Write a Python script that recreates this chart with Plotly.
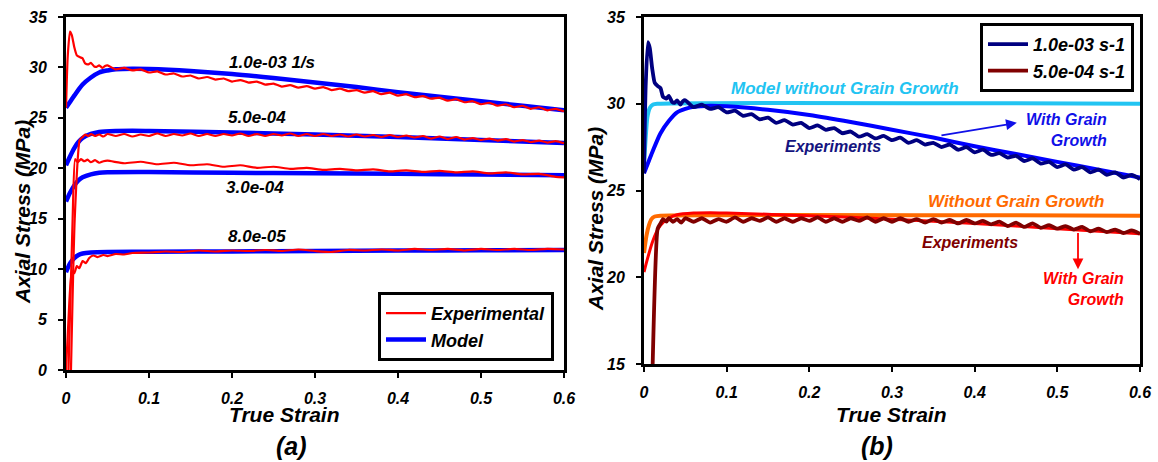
import plotly.graph_objects as go

W, H = 1158, 462

# ---------------- data ----------------
# 1.0e-03 1/s experiment (left red, right navy)
exp1_x = [0, 0.002, 0.0048, 0.007, 0.01, 0.013, 0.017, 0.02, 0.023, 0.027, 0.03, 0.034, 0.037, 0.04, 0.044, 0.047,
          0.05, 0.06, 0.07, 0.08, 0.09, 0.10, 0.11, 0.12, 0.13, 0.14, 0.15, 0.16, 0.17, 0.18, 0.19, 0.20,
          0.21, 0.22, 0.23, 0.24, 0.25, 0.26, 0.27, 0.28, 0.29, 0.30, 0.31, 0.32, 0.33, 0.34, 0.35, 0.36,
          0.37, 0.38, 0.39, 0.40, 0.41, 0.42, 0.43, 0.44, 0.45, 0.46, 0.47, 0.48, 0.49, 0.50, 0.51, 0.52,
          0.53, 0.54, 0.55, 0.56, 0.57, 0.58, 0.59, 0.60]
exp1_y = [26.0, 31.0, 33.55, 33.2, 32.0, 31.2, 31.0, 30.9, 30.4, 30.3, 30.45, 30.1, 30.05, 30.2, 29.95, 30.15,
          30.2, 29.8, 29.95, 29.7, 29.8, 29.5, 29.6, 29.3, 29.4, 29.1, 29.2, 28.9, 29.05, 28.8, 28.9, 28.6,
          28.75, 28.5, 28.6, 28.3, 28.4, 28.1, 28.25, 28.0, 28.15, 27.9, 28.05, 27.75, 27.9, 27.65, 27.75, 27.5,
          27.65, 27.35, 27.5, 27.2, 27.35, 27.05, 27.15, 26.9, 27.0, 26.7, 26.85, 26.55, 26.65, 26.35, 26.5, 26.2,
          26.35, 26.05, 26.2, 25.9, 26.05, 25.75, 25.9, 25.65]

# 1.0e-03 model with grain growth
mod1_x = [0, 0.005, 0.01, 0.02, 0.03, 0.04, 0.05, 0.06, 0.08, 0.10, 0.15, 0.20, 0.25, 0.30, 0.35, 0.40, 0.45, 0.50, 0.55, 0.60]
mod1_y = [26.0, 26.6, 27.2, 28.3, 29.0, 29.5, 29.7, 29.82, 29.88, 29.85, 29.65, 29.35, 28.95, 28.5, 28.05, 27.55, 27.1, 26.65, 26.2, 25.75]

# 5.0e-04 experiment (left red, right maroon)
exp2_x = [0.006, 0.0105, 0.0165, 0.02, 0.023, 0.027, 0.03, 0.035, 0.04, 0.045,
          0.05, 0.06, 0.07, 0.08, 0.09, 0.10, 0.11, 0.12, 0.13, 0.14, 0.15, 0.16, 0.17, 0.18, 0.19, 0.20,
          0.21, 0.22, 0.23, 0.24, 0.25, 0.26, 0.27, 0.28, 0.29, 0.30, 0.31, 0.32, 0.33, 0.34, 0.35, 0.36,
          0.37, 0.38, 0.39, 0.40, 0.41, 0.42, 0.43, 0.44, 0.45, 0.46, 0.47, 0.48, 0.49, 0.50, 0.51, 0.52,
          0.53, 0.54, 0.55, 0.56, 0.57, 0.58, 0.59, 0.60]
exp2_y = [0.0, 15.0, 22.8, 23.1, 23.35, 23.2, 23.4, 23.2, 23.35, 23.15,
          23.4, 23.2, 23.4, 23.15, 23.35, 23.2, 23.45, 23.2, 23.4, 23.25, 23.45, 23.2, 23.4, 23.2, 23.4, 23.25,
          23.45, 23.2, 23.4, 23.2, 23.4, 23.25, 23.45, 23.2, 23.4, 23.2, 23.4, 23.2, 23.35, 23.15, 23.35, 23.15,
          23.3, 23.1, 23.3, 23.1, 23.25, 23.05, 23.2, 22.95, 23.15, 22.9, 23.1, 22.85, 23.0, 22.8, 22.95, 22.75,
          22.9, 22.65, 22.8, 22.6, 22.75, 22.55, 22.7, 22.5]

# 5.0e-04 model with grain growth
mod2_x = [0, 0.005, 0.01, 0.015, 0.02, 0.03, 0.04, 0.06, 0.08, 0.10, 0.20, 0.30, 0.40, 0.50, 0.60]
mod2_y = [20.3, 21.2, 22.0, 22.6, 23.0, 23.4, 23.6, 23.7, 23.72, 23.7, 23.55, 23.35, 23.1, 22.8, 22.5]

# 3.0e-04 experiment / model
exp3_x = [0.003, 0.008, 0.011, 0.014, 0.018, 0.022, 0.026, 0.03, 0.035, 0.04, 0.045,
          0.05, 0.07, 0.09, 0.11, 0.13, 0.15, 0.17, 0.19, 0.21, 0.23, 0.25, 0.27, 0.29, 0.31, 0.33,
          0.35, 0.37, 0.39, 0.41, 0.43, 0.45, 0.47, 0.49, 0.51, 0.53, 0.55, 0.57, 0.59, 0.60]
exp3_y = [0.0, 15.0, 20.9, 20.6, 20.9, 20.7, 20.85, 20.6, 20.8, 20.55, 20.7,
          20.75, 20.5, 20.65, 20.4, 20.55, 20.3, 20.4, 20.15, 20.3, 20.05, 20.15, 19.95, 20.05, 19.85, 19.95,
          19.8, 19.9, 19.7, 19.8, 19.65, 19.75, 19.6, 19.7, 19.5, 19.6, 19.4, 19.45, 19.15, 19.1]
mod3_x = [0, 0.005, 0.01, 0.015, 0.02, 0.03, 0.04, 0.05, 0.10, 0.20, 0.30, 0.40, 0.50, 0.60]
mod3_y = [16.7, 17.6, 18.3, 18.8, 19.1, 19.4, 19.55, 19.6, 19.62, 19.55, 19.5, 19.45, 19.38, 19.3]

# 8.0e-05 experiment / model
exp4_x = [0, 0.003, 0.007, 0.01, 0.013, 0.016, 0.02, 0.024, 0.028, 0.033, 0.038, 0.045, 0.05, 0.06, 0.07, 0.08,
          0.10, 0.12, 0.14, 0.16, 0.18, 0.20, 0.22, 0.24, 0.26, 0.28, 0.30, 0.32, 0.34, 0.36, 0.38, 0.40,
          0.42, 0.44, 0.46, 0.48, 0.50, 0.52, 0.54, 0.56, 0.58, 0.60]
exp4_y = [0.0, 5.0, 9.8, 9.6, 10.3, 10.1, 10.8, 10.6, 11.1, 11.35, 11.2, 11.4, 11.3, 11.5, 11.45, 11.6,
          11.65, 11.75, 11.7, 11.85, 11.75, 11.85, 11.8, 11.9, 11.8, 11.95, 11.8, 11.7, 11.9, 11.85, 11.95, 11.85,
          12.0, 11.9, 12.0, 11.85, 12.0, 11.9, 12.0, 11.9, 12.0, 11.95]
mod4_x = [0, 0.005, 0.01, 0.015, 0.02, 0.03, 0.05, 0.10, 0.20, 0.30, 0.40, 0.50, 0.60]
mod4_y = [9.7, 10.6, 11.1, 11.4, 11.55, 11.65, 11.7, 11.72, 11.76, 11.8, 11.84, 11.87, 11.9]

# models without grain growth (panel b)
nogg1_x = [0, 0.002, 0.004, 0.007, 0.011, 0.016, 0.60]
nogg1_y = [26.5, 28.0, 29.2, 29.75, 29.95, 30.0, 30.0]
nogg2_x = [0, 0.003, 0.006, 0.009, 0.013, 0.02, 0.60]
nogg2_y = [21.4, 22.4, 23.0, 23.35, 23.5, 23.55, 23.55]

x_ticks = [0, 0.1, 0.2, 0.3, 0.4, 0.5, 0.6]
x_ticktext = ["0", "0.1", "0.2", "0.3", "0.4", "0.5", "0.6"]
ya_ticks = [0, 5, 10, 15, 20, 25, 30, 35]
yb_ticks = [15, 20, 25, 30, 35]

rate_labels_a = ["1.0e-03 1/s", "5.0e-04", "3.0e-04", "8.0e-05"]
legend_a = ["Experimental", "Model"]
legend_b = ["1.0e-03 s-1", "5.0e-04 s-1"]

# ---------------- styling ----------------
FAM = "Liberation Sans, Arial, sans-serif"
def F(size, color="black"):
    return dict(family=FAM, size=size, color=color, weight="bold", style="italic")

RED = "#FF0000"
BLUE = "#0000FF"
NAVY = "#000080"
MAROON = "#800000"
CYAN = "#22C4F2"
ORANGE = "#FF6A00"

def px(x):
    return x / W
def py(y):
    return 1 - y / H

fig = go.Figure()

# ---- panel (a) ----
exps_a = [(exp1_x, exp1_y), (exp2_x, exp2_y), (exp3_x, exp3_y), (exp4_x, exp4_y)]
mods_a = [(mod1_x, mod1_y), (mod2_x, mod2_y), (mod3_x, mod3_y), (mod4_x, mod4_y)]

for (mx, my) in mods_a:
    fig.add_trace(go.Scatter(x=mx, y=my, mode="lines", line=dict(color=BLUE, width=4.5, shape="spline", smoothing=0.8),
                             name=legend_a[1], showlegend=False, xaxis="x", yaxis="y"))
for i, (ex, ey) in enumerate(exps_a):
    fig.add_trace(go.Scatter(x=ex, y=ey, mode="lines", line=dict(color=RED, width=2.2, shape="spline", smoothing=0.5),
                             name=legend_a[0], showlegend=(i == 0), legend="legend", xaxis="x", yaxis="y"))
fig.add_trace(go.Scatter(x=[None], y=[None], mode="lines", line=dict(color=BLUE, width=4.5),
                         name=legend_a[1], showlegend=True, legend="legend", xaxis="x", yaxis="y"))

# ---- panel (b) ----
fig.add_trace(go.Scatter(x=nogg1_x, y=nogg1_y, mode="lines", line=dict(color=CYAN, width=4, shape="spline", smoothing=0.6),
                         showlegend=False, xaxis="x2", yaxis="y2"))
fig.add_trace(go.Scatter(x=nogg2_x, y=nogg2_y, mode="lines", line=dict(color=ORANGE, width=4, shape="spline", smoothing=0.6),
                         showlegend=False, xaxis="x2", yaxis="y2"))
fig.add_trace(go.Scatter(x=mod1_x, y=mod1_y, mode="lines", line=dict(color=BLUE, width=4, shape="spline", smoothing=0.8),
                         showlegend=False, xaxis="x2", yaxis="y2"))
fig.add_trace(go.Scatter(x=mod2_x, y=mod2_y, mode="lines", line=dict(color=RED, width=3, shape="spline", smoothing=0.8),
                         showlegend=False, xaxis="x2", yaxis="y2"))
fig.add_trace(go.Scatter(x=exp1_x, y=exp1_y, mode="lines", line=dict(color=NAVY, width=3.8, shape="spline", smoothing=0.5),
                         name=legend_b[0], showlegend=True, legend="legend2", xaxis="x2", yaxis="y2"))
fig.add_trace(go.Scatter(x=exp2_x, y=exp2_y, mode="lines", line=dict(color=MAROON, width=3.8, shape="spline", smoothing=0.5),
                         name=legend_b[1], showlegend=True, legend="legend2", xaxis="x2", yaxis="y2"))

axis_common = dict(showline=True, linewidth=3, linecolor="black", mirror=True, ticks="outside",
                   ticklen=5, tickwidth=1.5, tickcolor="black", showgrid=False, zeroline=False,
                   tickfont=F(16), automargin=False)

fig.update_layout(
    width=W, height=H, margin=dict(l=0, r=0, t=0, b=0, autoexpand=False),
    paper_bgcolor="white", plot_bgcolor="white",
    xaxis=dict(domain=[px(66), px(564)], range=[0, 0.6], tickvals=x_ticks, ticktext=x_ticktext,
               anchor="y", ticklabelstandoff=7, **axis_common),
    yaxis=dict(domain=[py(370), py(17)], range=[0, 35], tickvals=ya_ticks, anchor="x",
               ticklabelstandoff=8, **axis_common),
    xaxis2=dict(domain=[px(644), px(1140)], range=[0, 0.6], tickvals=x_ticks, ticktext=x_ticktext,
                anchor="y2", ticklabelstandoff=7, **axis_common),
    yaxis2=dict(domain=[py(364), py(17)], range=[15, 35], tickvals=yb_ticks, anchor="x2",
                ticklabelstandoff=8, **axis_common),
    legend=dict(x=px(554), y=py(292), xanchor="right", yanchor="top", bgcolor="white",
                bordercolor="black", borderwidth=3, font=F(18), tracegroupgap=0, itemwidth=40),
    legend2=dict(x=px(1134), y=py(23), xanchor="right", yanchor="top", bgcolor="white",
                 bordercolor="black", borderwidth=3, font=F(18), tracegroupgap=0, itemwidth=40),
    showlegend=True,
)

ann = []
def text(x, y, s, size, color="black", xanchor="center", yanchor="middle", align="center", angle=0):
    ann.append(dict(x=px(x), y=py(y), xref="paper", yref="paper", text=s, showarrow=False,
                    font=F(size, color), xanchor=xanchor, yanchor=yanchor, align=align, textangle=angle,
                    borderpad=0))

# panel (a) labels
text(272, 62, rate_labels_a[0], 17)
text(257, 117, rate_labels_a[1], 17)
text(255, 187, rate_labels_a[2], 17)
text(257, 236, rate_labels_a[3], 17)
text(284, 414, "True Strain", 21)
text(22, 212, "Axial Stress (MPa)", 21, angle=-90)
text(291, 461, "(a)", 25, yanchor="bottom")

# panel (b) labels
text(845, 88, "Model without Grain Growth", 17, CYAN)
text(1108, 130, "With Grain<br>Growth", 16, "#1010E8", xanchor="right", align="right")
text(833, 147, "Experiments", 16, "#141480")
text(1016, 202, "Without Grain Growth", 17, ORANGE)
text(970, 242, "Experiments", 16, MAROON)
text(1125, 289, "With Grain<br>Growth", 16, RED, xanchor="right", align="right")
text(891, 414, "True Strain", 21)
text(595, 219, "Axial Stress (MPa)", 21, angle=-90)
text(877, 461, "(b)", 25, yanchor="bottom")

# arrows (panel b), in data coords
ann.append(dict(x=0.451, y=28.9, ax=0.358, ay=28.16, xref="x2", yref="y2", axref="x2", ayref="y2",
                text="", showarrow=True, arrowhead=2, arrowsize=1.2, arrowwidth=1.8, arrowcolor="#1010E8"))
ann.append(dict(x=0.525, y=20.46, ax=0.525, ay=22.64, xref="x2", yref="y2", axref="x2", ayref="y2",
                text="", showarrow=True, arrowhead=2, arrowsize=1.2, arrowwidth=1.8, arrowcolor=RED))

fig.update_layout(annotations=ann)
fig.write_html("out.html",
               post_script="document.body.style.margin='0';document.body.style.padding='0';"
                           "document.documentElement.style.overflow='hidden';")
